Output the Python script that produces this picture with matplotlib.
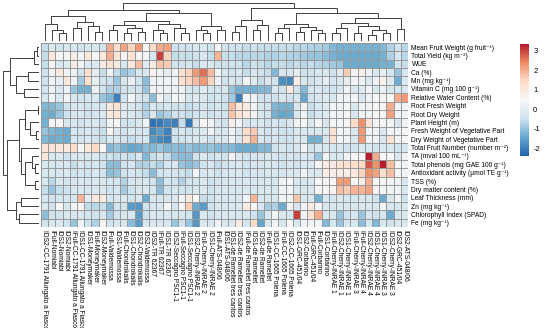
import numpy as np
import matplotlib
matplotlib.use("Agg")
import matplotlib.pyplot as plt
from matplotlib.colors import LinearSegmentedColormap

plt.rcParams["font.family"] = ["Liberation Sans", "DejaVu Sans"]

# Row (trait) labels, top to bottom
row_labels = [
    "Mean Fruit Weight (g fruit⁻¹)", "Total Yield (kg m⁻²)", "WUE", "Ca (%)",
    "Mn (mg kg⁻¹)", "Vitamin C (mg 100 g⁻¹)", "Relative Water Content (%)",
    "Root Fresh Weight", "Root Dry Weight", "Plant Height (m)",
    "Fresh Weight of Vegetative Part", "Dry Weight of Vegetative Part",
    "Total Fruit Number (number m⁻²)", "TA (mval 100 mL⁻¹)",
    "Total phenols (mg GAE 100 g⁻¹)", "Antioxidant activity (µmol TE g⁻¹)",
    "TSS (%)", "Dry matter content (%)", "Leaf Thickness (mm)", "Zn (mg kg⁻¹)",
    "Chlorophyll Index (SPAD)", "Fe (mg kg⁻¹)",
]

# Column (treatment-genotype) labels, left to right
col_labels = [
    "IDS2-CC-1791 Allungato a Fiasco", "IFull-Nomiabi", "IDS1-Nomiabi", "IDS2-Nomiabi",
    "IFull-CC-1791 Allungato a Fiasco", "IDS1-CC-1791 Allungato a Fiasco",
    "IDS1-Moneymaker", "IFull-Moneymaker", "IDS2-Moneymaker", "IFull-Valdemossa",
    "IDS1-Valdemossa", "IFull-Chondrokalis", "IDS1-Chondrokalis", "IDS2-Chondrokalis",
    "IDS2-Valdemossa", "IDS2-TR 62367", "IFull-TR 62367", "IDS1-TR 62367",
    "IDS2-Seccagno PSC1-1", "IFull-Seccagno PSC1-1", "IDS1-Seccagno PSC1-1",
    "IDS2-Cherry-INRAE 2", "IFull-Cherry-INRAE 2", "IDS1-Cherry-INRAE 2",
    "IFull-ATS-048/06", "IDS1-ATS-048/06", "IDS1-de Ramellet tres cantos",
    "IDS2-de Ramellet tres cantos", "IFull-de Ramellet tres cantos", "IDS1-de Ramellet",
    "IDS2-de Ramellet", "IFull-de Ramellet", "IDS1-CC-1665 Polena", "IFull-CC-1665 Polena",
    "IDS2-CC-1665 Polena", "IDS1-GRC-451/04", "IDS2-Corbarino", "IFull-GRC-451/04",
    "IFull-Corbarino", "IDS1-Corbarino", "IFull-Cherry-INRAE 1", "IDS2-Cherry-INRAE 1",
    "IDS1-Cherry-INRAE 1", "IFull-Cherry-INRAE 3", "IFull-Cherry-INRAE 4",
    "IDS2-Cherry-INRAE 4", "IDS1-Cherry-INRAE 4", "IDS1-Cherry-INRAE 3",
    "IDS2-Cherry-INRAE 3", "IDS2-GRC-451/04", "IDS2-ATS-048/06",
]

# Scaled values (rows = traits, columns = genotypes)
values = np.array([
    [-0.6, -0.3, -0.5, -0.3, -0.3, -0.5, -0.3, -0.3, -0.5, 2.0, 1.3, 2.1, 1.5, 2.2, 0.4, 1.4, 2.0, 2.1,
     -0.5, -0.5, -0.5, -0.4, -0.3, -0.5, 0.4, -0.5, -0.5, -0.5, -0.6, -0.5, -0.6, -0.6, -0.6, -0.6,
     -0.6, -0.7, -0.7, -0.8, -0.8, -0.9, -1.2, -1.3, -1.3, -1.3, -1.3, -1.3, -1.3, -1.2, -0.8, -0.5, -0.7],
    [-0.6, 1.0, 0.4, 0.4, 0.8, 0.3, 1.0, 0.4, 1.0, 2.0, 1.1, 0.6, 1.2, 0.5, 0.4, -0.3, 3.0, 1.5,
     -0.6, -0.6, -0.6, -0.5, -0.4, -0.6, 1.9, -0.6, -0.6, -0.7, -0.7, -0.7, -0.7, -0.8, -0.8, -0.7,
     -0.8, -0.8, -0.9, -1.0, -1.0, -1.1, -1.3, -1.4, -1.4, -1.4, -1.4, -1.4, -1.4, -1.3, -0.8, -0.4, -0.7],
    [-0.6, 0.4, -0.3, -0.2, 0.9, 0.3, -0.2, -0.2, 0.9, 1.2, 0.9, -0.3, 1.0, 1.8, -0.2, 0.9, 1.7, 1.6,
     -0.5, -0.5, -0.3, -0.6, -0.3, -0.3, -0.5, -0.5, -0.5, -0.5, -0.7, -0.5, -0.6, -0.7, -0.6, -0.6,
     -0.7, -0.6, -0.7, -0.6, -0.7, -0.8, -0.9, -1.0, -1.4, -1.4, -1.4, -1.4, -1.4, -1.3, -1.3, -0.5, -0.6],
    [-0.5, 0.3, 1.0, 0.3, 0.2, -0.5, 1.3, 0.0, -0.6, 0.2, -0.6, -1.0, -0.8, -0.3, -0.3, 0.6, 0.2, 0.0,
     0.3, 1.2, 1.5, 2.2, 2.6, 1.8, 0.3, -0.3, -0.5, -0.3, -0.6, -0.3, -0.5, -0.6, -1.2, -0.4,
     -0.3, 0.0, -0.5, -0.5, -0.3, -0.3, -0.5, -0.2, 1.6, 0.3, 0.8, 0.2, -0.3, 0.0, -0.4, -1.0, -0.4],
    [-0.5, 0.2, 0.0, 1.0, 0.2, -0.9, 1.3, 0.0, -0.5, -0.5, -1.0, -0.4, 0.1, -0.5, -1.1, 0.2, 0.2, 0.2,
     0.3, 1.3, 1.5, 1.8, 2.2, 1.5, 0.2, -0.5, -0.3, -0.5, 0.3, -0.2, -0.6, -0.3, -0.5, -1.8,
     -1.9, 0.8, -0.3, -0.5, -0.3, 0.0, -0.4, -0.3, 0.0, 0.3, 0.2, -0.2, 0.2, 0.6, -0.2, -1.4, -0.3],
    [-0.5, 0.2, -0.4, 0.2, -1.0, -1.3, -1.3, 0.2, -0.5, -0.8, -0.8, -0.5, -0.5, -0.5, -1.0, 0.3, 0.3, 0.2,
     0.2, 0.2, -0.3, -0.5, -0.2, -0.4, -0.5, -0.3, -1.0, -1.3, -1.3, -1.3, -1.2, -1.2, -0.3, -0.5,
     0.9, -0.5, -1.2, -0.4, -0.3, -0.5, -0.5, -0.3, 0.3, -0.3, -0.2, 0.3, -0.3, 0.2, -0.3, -0.4, -0.3],
    [-0.4, 0.3, -0.3, 0.3, -0.3, -0.5, -0.4, -0.3, -1.0, -1.2, -2.0, -0.5, 0.3, -0.3, -0.5, -1.1, 0.3, -0.2,
     0.4, 0.2, -0.3, -0.2, -0.3, -0.5, -0.4, -0.5, -0.9, -2.0, 0.3, 0.2, -0.5, -0.5, -0.5, -0.3,
     -0.5, -0.4, -1.5, -0.5, -0.3, -0.2, -0.3, 0.3, 0.2, 0.3, -0.3, 0.2, 0.4, 0.3, 0.4, 2.0, 2.2],
    [-1.2, -1.2, -1.0, -0.5, -0.4, -0.3, -0.5, -0.4, -0.3, 1.0, 1.2, -0.2, -0.3, -0.5, -0.8, -0.3, -0.5, -0.3,
     -0.5, -0.5, -0.6, -0.5, -0.4, -0.5, -0.4, -0.5, 1.8, 1.0, 0.9, 0.3, -0.4, -0.5, -1.2, -1.3,
     -1.3, -0.3, 0.3, -0.6, -0.3, -0.2, 0.3, 0.2, 0.4, -0.3, 0.3, 0.3, 0.5, 0.4, 2.0, 0.3, 0.3],
    [-1.3, -1.4, -1.0, -0.5, -0.4, -0.3, -0.5, -0.4, -0.3, 0.9, 1.1, -0.2, -0.3, -0.5, -0.8, -0.3, -1.0, -0.8,
     -0.5, -0.5, -0.6, -0.5, -0.4, -0.5, -0.4, -0.5, 1.7, 1.2, 0.9, 0.3, -0.4, -0.5, -1.3, -1.5,
     -1.4, -0.3, 0.3, -0.6, -0.3, -0.2, 0.3, 0.2, 0.4, -0.3, 0.3, 0.3, 0.5, 0.4, 2.1, 0.3, 0.3],
    [-1.3, 0.3, 0.4, -0.3, -0.3, -0.5, -0.3, -0.3, -0.5, 0.3, 0.4, -0.5, -0.5, -0.3, 0.3, -2.2, -2.1, -1.9,
     -2.0, -0.6, -2.1, -0.3, 0.4, 0.3, -0.3, -0.5, 0.8, 0.3, -0.3, -0.4, -0.3, -0.5, -0.4, -0.5,
     -0.3, 0.3, 0.4, -0.3, 0.3, -0.3, 0.4, 0.3, 0.5, 1.4, 2.3, 1.2, 0.3, 0.4, 0.3, -0.3, 0.3],
    [-1.0, -1.2, -1.3, -1.4, -0.4, -0.5, -0.3, -0.5, -0.6, 0.6, -0.3, -0.5, -0.3, -0.4, -0.4, -1.9, -1.6, -2.0,
     -0.5, -0.4, -0.5, -0.4, -0.3, 0.3, -0.3, -0.3, 0.3, -0.3, 1.4, 1.6, -0.3, -0.5, -0.4, -0.5,
     -0.5, -0.3, -0.3, -0.4, -0.3, -0.3, 1.2, 0.3, 0.3, -0.3, 2.2, 0.3, 0.3, -0.3, 0.3, 0.3, 0.4],
    [-1.2, -1.4, -1.3, -1.4, -0.4, -0.5, -0.3, -0.5, -0.6, -0.3, -0.3, -0.5, -0.6, -0.4, -0.4, -1.7, -1.9, -2.0,
     -0.5, -0.5, -0.4, -0.3, -0.3, -0.5, -0.3, -0.3, 0.3, -0.3, 1.2, 1.9, -0.3, -0.5, -0.4, -0.5,
     -0.5, -0.3, -0.3, -1.3, -1.3, -0.3, 1.2, 0.3, 0.3, -0.3, 2.2, 0.3, 0.3, -0.3, 1.2, 0.3, 0.4],
    [1.1, 1.1, 1.0, 0.9, 1.4, 0.4, 1.0, 1.4, 0.4, -1.2, -1.0, -1.3, -1.5, -1.4, -1.1, -1.2, -1.0, -1.2,
     -1.1, -1.2, -1.0, -1.2, -1.1, -1.0, -1.2, -1.1, -1.2, -1.4, -1.4, -1.4, -1.2, -1.2, -0.5, -0.3,
     -0.5, -0.3, 0.3, -0.5, -0.4, -0.3, -0.4, -0.3, -0.5, -0.5, -0.3, -0.4, -0.5, -0.4, -0.3, -0.5, -0.4],
    [1.0, -0.3, -0.3, -0.5, -0.4, -0.3, -0.3, -0.3, -0.5, -0.5, -0.6, -0.5, -0.6, -0.4, -1.2, -0.6, -0.4, -0.6,
     -1.0, -1.1, -1.1, -0.5, -0.3, -0.5, -0.4, -0.5, 0.3, -0.3, -0.5, -0.3, -0.4, -0.3, -0.4, -0.5,
     -0.3, -0.5, -0.3, -0.5, -1.0, 0.3, -0.3, -0.3, 0.3, 0.4, 0.5, 3.3, 2.0, 0.5, 0.4, -0.3, 0.3],
    [-0.3, -0.4, -0.4, -0.3, -0.6, -0.3, -0.5, -0.4, -0.5, -1.1, -1.1, -0.5, -0.4, -0.8, -0.8, -0.6, -0.8, -0.4,
     -0.3, -1.0, -1.1, -1.0, -0.5, -0.3, -0.6, -0.5, -0.4, -0.3, -0.5, -0.3, -0.4, -0.3, -0.4, -0.5,
     -0.3, -0.5, -0.3, -0.4, 0.3, 0.9, 0.9, 1.2, 1.2, 1.3, 1.4, 2.8, 2.3, 3.3, 1.8, 0.5, 0.3],
    [-0.4, -0.3, -0.4, -0.3, -0.5, -0.4, -0.5, -0.3, -0.5, -1.1, -1.0, -0.5, -0.4, -0.5, -0.6, -1.1, -0.5, -0.4,
     -0.4, -0.5, -0.6, 0.3, -0.4, -0.3, -0.5, -0.4, -0.3, -0.3, -0.5, -0.3, -0.4, -0.3, -0.3, -0.4,
     -0.3, -0.3, 0.3, -0.3, -0.3, 0.8, 0.8, 0.9, 0.8, 1.0, 1.5, 2.3, 2.1, 1.3, 1.8, 0.4, 0.3],
    [-0.4, -0.7, -0.3, -0.4, -0.4, -0.3, -0.4, -0.3, -0.3, -0.4, -0.4, -0.8, -0.4, -0.3, -0.3, -0.5, -1.1, -0.4,
     -0.5, -0.8, -0.5, -0.4, -0.3, -0.5, -0.4, -0.3, -0.3, -0.4, -0.3, -0.4, -0.3, -0.3, -0.3, 0.3,
     0.4, -0.3, -0.3, -0.3, 0.4, 0.4, 0.5, 2.2, 2.2, 0.4, 0.8, 2.0, 0.4, 0.4, 0.3, 0.3, -0.3],
    [-0.6, -1.0, -0.6, -0.5, -0.4, -0.3, -0.4, -0.3, -0.3, -0.5, -0.4, -0.9, -0.5, -0.3, -0.3, -0.4, -1.1, -0.5,
     -0.4, -0.5, -0.5, -0.4, -0.3, -0.5, -0.4, -0.3, -0.3, -0.4, -0.3, -0.4, -0.3, -0.3, -0.3, 0.3,
     0.4, -0.3, -0.3, -0.3, 0.4, 0.5, 0.6, 1.8, 1.6, 1.9, 1.9, 2.1, 0.6, 0.4, 0.3, 0.3, -0.3],
    [-0.4, -0.5, -0.4, -0.3, -0.4, 1.9, 0.0, 0.9, 0.9, -0.4, -0.3, -0.3, -0.5, -0.3, -1.4, -0.3, -0.4, -0.3,
     -0.3, 0.3, 0.9, 0.5, -0.6, -0.5, -0.3, -0.4, -0.3, -0.3, 0.3, 1.9, -0.3, -0.3, -0.3, 0.3,
     0.3, 1.7, -0.3, -0.3, -1.3, -0.4, -0.3, -0.3, -0.3, -0.4, -0.3, -0.3, -0.5, -1.4, -0.3, 0.3, -0.5],
    [-0.3, -0.5, 0.4, -0.3, 0.3, 0.6, -0.6, -0.7, -0.6, -1.2, -0.5, -0.5, -1.6, -1.7, -0.5, -0.4, -0.3, 0.4,
     -0.4, 0.5, 1.6, -1.4, -1.6, -0.5, -0.3, -0.4, -0.3, -0.3, 0.9, 0.4, -0.3, -0.9, -0.8, -1.4,
     0.3, -0.3, 0.3, 0.9, 0.3, -0.3, -0.3, -0.3, -0.3, -0.3, -0.3, -0.3, -0.3, 0.3, -0.3, -0.3, -0.3],
    [-1.1, -0.5, -0.5, -0.3, -0.4, -0.3, -0.4, -0.5, -0.3, -0.9, -0.5, -0.4, -0.3, -1.6, -0.5, -0.3, -0.4, -0.3,
     -0.3, -0.4, -0.5, -1.7, -0.3, -0.5, -0.4, -0.3, -0.3, -0.4, -0.3, -0.5, -1.0, -0.4, 0.3, -0.3,
     -0.4, 3.0, 0.3, 1.2, 2.0, -0.3, -0.3, -1.0, -0.5, -0.3, -1.0, -0.3, -0.5, -0.3, -1.4, -0.3, -0.3],
    [-0.5, -0.4, -0.3, -0.5, -1.0, 0.3, -0.5, -0.8, 0.4, -0.5, -0.3, -0.4, -1.1, -1.6, -0.4, -0.3, -0.4, -0.3,
     -1.0, -0.5, -1.0, -1.7, -0.3, -0.4, 0.3, -0.3, -0.3, 0.9, -0.4, 1.4, -1.5, -0.3, 0.3, -0.4,
     0.5, -0.3, 0.3, 0.3, 0.3, -1.2, -0.3, -1.0, -0.4, -0.3, -1.1, -0.4, -1.2, -0.3, -0.5, -0.3, -0.3],
])

# Dendrograms as [height, left, right]; leaves are row/column indices
col_tree = [1.0,
    [0.82,
        [0.67, [0.45, 0, [0.3, 1, [0.2, 2, 3]]], [0.5, [0.35, 4, 5], [0.4, 6, [0.25, 7, 8]]]],
        [0.74,
            [0.53, [0.42, [0.3, 9, 10], [0.35, [0.2, 11, 12], [0.25, 13, 14]]],
                   [0.45, [0.3, 15, [0.2, 16, 17]], [0.35, 18, [0.22, 19, 20]]]],
            [0.4, [0.3, 21, [0.2, 22, 23]], [0.28, 24, 25]]]],
    [0.87,
        [0.55, [0.4, [0.25, 26, 27], 28], [0.42, [0.3, 29, 30], 31]],
        [0.74,
            [0.45, [0.35, [0.2, 32, 33], 34], [0.38, [0.25, 35, 36], [0.3, 37, [0.2, 38, 39]]]],
            [0.6, [0.48, [0.35, [0.22, 40, 41], 42],
                         [0.4, [0.2, 43, 44], [0.3, [0.15, 45, 46], [0.2, 47, 48]]]],
                  [0.32, 49, 50]]]]]

row_tree = [1.0,
    [0.81, [0.15, [0.06, 0, 1], 2], [0.64, [0.3, 3, 4], [0.43, 5, 6]]],
    [0.88,
        [0.55, [0.4, [0.03, 7, 8], [0.25, 9, [0.08, 10, 11]]],
               [0.5, 12, [0.38, [0.2, 13, [0.12, 14, 15]], [0.1, 16, 17]]]],
        [0.65, [0.5, 18, 19], [0.55, 20, 21]]]]

vmin, vmax = -2.4, 3.35
cmap = LinearSegmentedColormap.from_list(
    "rdbu7", ["#2166AC", "#67A9CF", "#D1E5F0", "#F7F7F7", "#FDDBC7", "#EF8A62", "#B2182B"])

W, H = 550, 328
fig = plt.figure(figsize=(W / 100, H / 100), dpi=100)


def px_axes(x0, y0, x1, y1):
    return fig.add_axes([x0 / W, 1 - y1 / H, (x1 - x0) / W, (y1 - y0) / H])


nrow, ncol = values.shape
hx0, hx1, hy0, hy1 = 41, 408, 43, 227

# heatmap
ax = px_axes(hx0, hy0, hx1, hy1)
ax.pcolormesh(np.arange(ncol + 1), np.arange(nrow + 1), values, cmap=cmap,
              vmin=vmin, vmax=vmax, edgecolors="#999999", linewidth=0.6)
ax.set_xlim(0, ncol)
ax.set_ylim(nrow, 0)
for s in ax.spines.values():
    s.set_visible(False)
ax.yaxis.tick_right()
ax.set_yticks(np.arange(nrow) + 0.5)
ax.set_yticklabels(row_labels, fontsize=4.75)
ax.set_xticks(np.arange(ncol) + 0.5)
ax.set_xticklabels(col_labels, fontsize=4.75, rotation=-90, va="top", ha="center")
ax.tick_params(length=0, pad=2.5)


def draw_tree(a, node, top):
    if isinstance(node, int):
        return node + 0.5, 0.0
    h, left, right = node
    xl, hl = draw_tree(a, left, top)
    xr, hr = draw_tree(a, right, top)
    xs = [xl, xl, xr, xr]
    hs = [hl, h, h, hr]
    if top:
        a.plot(xs, hs, color="#404040", lw=0.7, solid_capstyle="butt")
    else:
        a.plot(hs, xs, color="#404040", lw=0.7, solid_capstyle="butt")
    return (xl + xr) / 2, h


# column dendrogram
axt = px_axes(hx0, 3, hx1, 41)
draw_tree(axt, col_tree, True)
axt.set_xlim(0, ncol)
axt.set_ylim(0, 1.0)
axt.axis("off")

# row dendrogram
axl = px_axes(3, hy0, 39, hy1)
draw_tree(axl, row_tree, False)
axl.set_ylim(nrow, 0)
axl.set_xlim(1.0, 0)
axl.axis("off")

# colour key
axc = px_axes(520, 44, 529, 156)
grad = np.linspace(vmax, vmin, 200).reshape(-1, 1)
axc.imshow(grad, aspect="auto", cmap=cmap, vmin=vmin, vmax=vmax,
           extent=[0, 1, vmin, vmax])
axc.set_ylim(vmin, vmax)
axc.set_xticks([])
axc.yaxis.tick_right()
axc.set_yticks([-2, -1, 0, 1, 2, 3])
axc.set_yticklabels(["-2", "-1", "0", "1", "2", "3"], fontsize=5.5)
axc.tick_params(length=0, pad=3)
for s in axc.spines.values():
    s.set_visible(False)

fig.savefig("out.png", dpi=100)
